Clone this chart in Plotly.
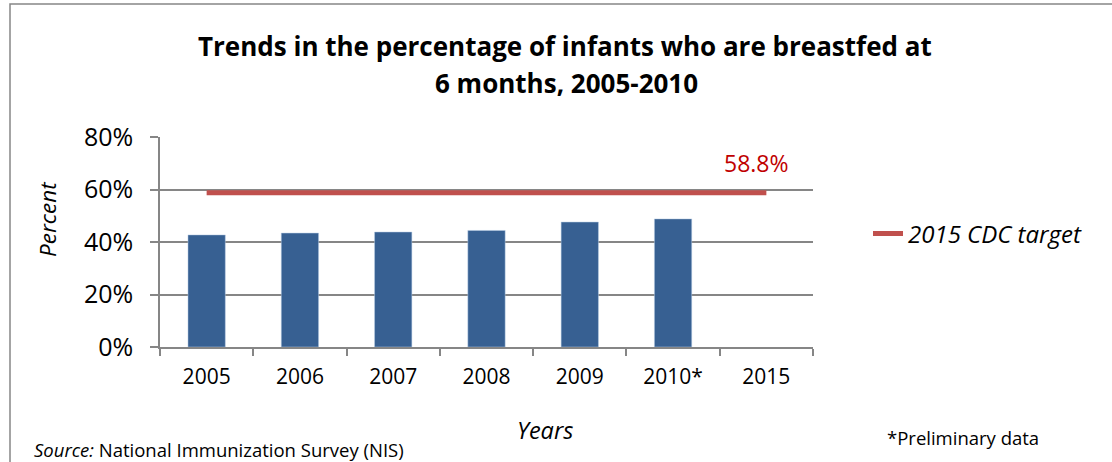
"""Breastfeeding at 6 months vs 2015 CDC target."""

import plotly.graph_objects as go

years = ["2005", "2006", "2007", "2008", "2009", "2010*", "2015"]
bar_years = ["2005", "2006", "2007", "2008", "2009", "2010*"]
breastfed_pct = [0.427, 0.434, 0.438, 0.444, 0.476, 0.488]
target_pct = 0.588
target_name = "2015 CDC target"

W, H = 1112, 462
L, R, T, B = 160, 813, 137, 347
pw, ph = R - L, B - T


def px(x):
    return (x - L) / pw


def py(y):
    return (B - y) / ph


FONT = "'Open Sans', sans-serif"
GRID = "#868686"

fig = go.Figure()
fig.add_trace(
    go.Bar(
        x=bar_years,
        y=breastfed_pct,
        marker_color="#376092",
        marker_line_color="#B9CDE5",
        marker_line_width=0.5,
        width=0.4,
        showlegend=False,
    )
)
fig.add_trace(
    go.Scatter(
        x=years,
        y=[target_pct] * len(years),
        mode="lines",
        name=target_name,
        line={"color": "#C0504D", "width": 5},
    )
)

# value label above the last point of the target line (category index)
fig.add_annotation(
    x=len(years) - 1,
    y=target_pct,
    text=f"{target_pct * 100:.1f}%",
    showarrow=False,
    yshift=30,
    xshift=-10,
    font={"family": FONT, "size": 23, "color": "#C00000"},
)


def note(x, y, text, size, xanchor="center", **kw):
    fig.add_annotation(
        xref="paper", yref="paper",
        x=px(x), y=py(y),
        xanchor=xanchor, yanchor="middle",
        text=text,
        showarrow=False,
        font={"family": FONT, "size": size, "color": "black"},
        **kw,
    )


note(565, 46, "<b>Trends in the percentage of infants who are breastfed at</b>", 26)
note(566, 83, "<b>6 months, 2005-2010</b>", 26)
note(545, 430, "<i>Years</i>", 23.5)
note(32, 449, "<i>Source:</i> National Immunization Survey (NIS)", 18.5, xanchor="left")
note(885, 437, "*Preliminary data", 18.5, xanchor="left")
note(47, 219, "<i>Percent</i>", 22.5, textangle=-90)

# chart border
fig.add_shape(
    type="rect",
    xref="paper", yref="paper",
    x0=px(10), x1=px(1125), y0=py(480), y1=py(4),
    line={"color": "#868686", "width": 1.5},
    layer="below",
)

fig.update_layout(
    width=W,
    height=H,
    margin={"l": L, "r": W - R, "t": T, "b": H - B},
    plot_bgcolor="white",
    paper_bgcolor="white",
    font={"family": FONT, "color": "black"},
    xaxis={
        "type": "category",
        "categoryorder": "array",
        "categoryarray": years,
        "range": [-0.5, len(years) - 0.5],
        "automargin": False,
        "showline": True,
        "linecolor": GRID,
        "linewidth": 1.5,
        "ticks": "outside",
        "tickson": "boundaries",
        "ticklen": 7,
        "tickcolor": GRID,
        "tickwidth": 1.5,
        "tickfont": {"size": 21},
        "ticklabelstandoff": 10,
        "showgrid": False,
    },
    yaxis={
        "range": [0, 0.8],
        "dtick": 0.2,
        "tickformat": ".0%",
        "automargin": False,
        "showline": True,
        "linecolor": GRID,
        "linewidth": 1.5,
        "ticks": "outside",
        "ticklen": 8,
        "tickcolor": GRID,
        "tickwidth": 1.5,
        "gridcolor": GRID,
        "gridwidth": 1.5,
        "tickfont": {"size": 25},
        "ticklabelstandoff": 12,
        "zeroline": False,
    },
    legend={
        "x": px(868),
        "y": py(234),
        "xanchor": "left",
        "yanchor": "middle",
        "font": {"size": 24, "style": "italic"},
    },
    bargap=0.6,
)

fig.write_html(
    "out.html",
    config={"displayModeBar": False},
    post_script="document.body.style.margin = '0';",
)
